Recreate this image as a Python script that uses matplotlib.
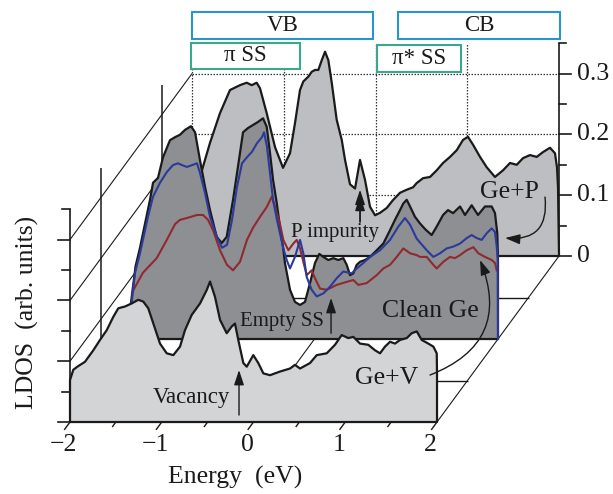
import numpy as np
import matplotlib
matplotlib.use("Agg")
import matplotlib.pyplot as plt
from matplotlib.patches import Polygon

plt.rcParams['font.family'] = ['Liberation Serif', 'DejaVu Serif']

# ---------------- data (energy in eV, LDOS in arb. units) ----------------
# Ge+P (back panel)
back_E = [-2.0, -1.95, -1.913, -1.804, -1.695, -1.586, -1.477, -1.404, -1.349, -1.295,
          -1.259, -1.186, -1.095, -1.008, -0.932, -0.877, -0.823, -0.787, -0.732, -0.695,
          -0.659, -0.623, -0.586, -0.550, -0.514, -0.477, -0.423, -0.368, -0.332, -0.278,
          -0.223, -0.169, -0.114, -0.060, -0.005, 0.049, 0.122, 0.191, 0.267, 0.340,
          0.409, 0.449, 0.518, 0.594, 0.667, 0.736, 0.812, 0.885, 0.954, 1.008,
          1.063, 1.139, 1.212, 1.302, 1.390, 1.466, 1.539, 1.608, 1.684, 1.757,
          1.826, 1.902, 1.956, 1.978, 1.989, 2.0]
back_L = [0.05, 0.09, 0.130, 0.186, 0.235, 0.273, 0.281, 0.285, 0.281, 0.285,
          0.276, 0.235, 0.179, 0.145, 0.169, 0.219, 0.273, 0.287, 0.295, 0.303,
          0.306, 0.306, 0.322, 0.336, 0.322, 0.285, 0.224, 0.191, 0.158, 0.118,
          0.111, 0.158, 0.125, 0.081, 0.067, 0.071, 0.079, 0.092, 0.104, 0.109,
          0.113, 0.120, 0.128, 0.130, 0.141, 0.153, 0.163, 0.174, 0.191, 0.196,
          0.183, 0.163, 0.146, 0.130, 0.141, 0.153, 0.150, 0.161, 0.166, 0.163,
          0.171, 0.178, 0.169, 0.146, 0.113, 0.0]

# Clean Ge (middle panel) total LDOS
mid_E = [-2.0, -1.95, -1.902, -1.847, -1.793, -1.760, -1.706, -1.651, -1.575, -1.520,
         -1.466, -1.411, -1.346, -1.302, -1.248, -1.193, -1.139, -1.066, -1.011, -0.957,
         -0.888, -0.812, -0.779, -0.725, -0.670, -0.616, -0.561, -0.521, -0.485, -0.452,
         -0.412, -0.376, -0.343, -0.322, -0.267, -0.213, -0.158, -0.104, -0.049, 0.005,
         0.052, 0.096, 0.150, 0.205, 0.259, 0.314, 0.351, 0.387, 0.423, 0.460,
         0.496, 0.550, 0.605, 0.678, 0.750, 0.823, 0.877, 0.932, 0.968, 1.005,
         1.041, 1.095, 1.150, 1.210, 1.277, 1.332, 1.401, 1.455, 1.510, 1.586,
         1.640, 1.713, 1.782, 1.858, 1.931, 1.967, 1.992, 2.0]
mid_L = [0.06, 0.12, 0.15, 0.19, 0.229, 0.257, 0.265, 0.299, 0.327, 0.332,
         0.336, 0.344, 0.350, 0.340, 0.294, 0.250, 0.212, 0.168, 0.158, 0.168,
         0.229, 0.306, 0.340, 0.347, 0.352, 0.357, 0.363, 0.349, 0.306, 0.262,
         0.224, 0.184, 0.151, 0.125, 0.081, 0.061, 0.056, 0.061, 0.092, 0.125,
         0.140, 0.135, 0.130, 0.133, 0.130, 0.133, 0.122, 0.105, 0.108, 0.122,
         0.127, 0.130, 0.135, 0.146, 0.157, 0.179, 0.196, 0.212, 0.223, 0.229,
         0.218, 0.201, 0.190, 0.180, 0.171, 0.185, 0.204, 0.212, 0.207, 0.218,
         0.204, 0.220, 0.204, 0.218, 0.218, 0.207, 0.174, 0.13]

# Clean Ge, blue component
blue_E = [-2.0, -1.992, -1.956, -1.902, -1.815, -1.760, -1.684, -1.608, -1.542, -1.488,
          -1.444, -1.390, -1.335, -1.281, -1.248, -1.193, -1.139, -1.063, -1.008, -0.953,
          -0.899, -0.845, -0.790, -0.736, -0.681, -0.627, -0.572, -0.550, -0.518, -0.485,
          -0.452, -0.409, -0.343, -0.303, -0.267, -0.213, -0.158, -0.122, -0.085, -0.031,
          0.024, 0.096, 0.169, 0.242, 0.314, 0.405, 0.460, 0.532, 0.605, 0.714,
          0.823, 0.914, 0.986, 1.041, 1.114, 1.223, 1.295, 1.368, 1.441, 1.513,
          1.586, 1.659, 1.713, 1.768, 1.822, 1.877, 1.931, 1.967, 1.986, 1.997, 2.0]
blue_L = [0.0, 0.061, 0.109, 0.141, 0.201, 0.234, 0.257, 0.275, 0.286, 0.289,
          0.286, 0.283, 0.286, 0.289, 0.273, 0.240, 0.201, 0.168, 0.150, 0.155,
          0.196, 0.250, 0.289, 0.299, 0.308, 0.322, 0.332, 0.340, 0.316, 0.273,
          0.229, 0.196, 0.151, 0.130, 0.116, 0.135, 0.163, 0.141, 0.102, 0.081,
          0.070, 0.075, 0.086, 0.100, 0.111, 0.108, 0.116, 0.125, 0.135, 0.146,
          0.163, 0.185, 0.199, 0.188, 0.165, 0.146, 0.135, 0.141, 0.149, 0.152,
          0.157, 0.166, 0.171, 0.166, 0.163, 0.174, 0.182, 0.176, 0.152, 0.13, 0.0]

# Clean Ge, red component
red_E = [-1.99, -1.87, -1.72, -1.61, -1.52, -1.466, -1.39, -1.28, -1.215, -1.16,
         -1.106, -1.03, -0.954, -0.888, -0.812, -0.736, -0.67, -0.594, -0.521, -0.466,
         -0.43, -0.376, -0.34, -0.285, -0.231, -0.194, -0.158, -0.122, -0.085, -0.031,
         0.005, 0.060, 0.133, 0.242, 0.351, 0.423, 0.478, 0.569, 0.678, 0.750,
         0.823, 0.896, 0.968, 1.041, 1.114, 1.150, 1.223, 1.295, 1.332, 1.404,
         1.477, 1.531, 1.586, 1.659, 1.731, 1.786, 1.858, 1.931, 1.967, 1.986]
red_L = [0.076, 0.109, 0.133, 0.163, 0.189, 0.196, 0.199, 0.204, 0.204, 0.196,
         0.179, 0.146, 0.122, 0.113, 0.127, 0.163, 0.183, 0.201, 0.217, 0.234,
         0.217, 0.189, 0.163, 0.146, 0.157, 0.163, 0.149, 0.127, 0.105, 0.113,
         0.100, 0.083, 0.081, 0.089, 0.094, 0.097, 0.089, 0.092, 0.105, 0.116,
         0.122, 0.135, 0.149, 0.141, 0.138, 0.135, 0.135, 0.122, 0.116, 0.127,
         0.135, 0.133, 0.138, 0.146, 0.151, 0.141, 0.135, 0.130, 0.125, 0.113]

# Ge+V (front panel)
front_E = [-2.0, -1.964, -1.910, -1.837, -1.746, -1.673, -1.600, -1.528, -1.474, -1.401,
           -1.328, -1.256, -1.201, -1.147, -1.092, -1.019, -0.946, -0.874, -0.801, -0.747,
           -0.674, -0.583, -0.510, -0.474, -0.420, -0.365, -0.292, -0.238, -0.202, -0.166,
           -0.111, -0.074, -0.002, 0.052, 0.107, 0.180, 0.289, 0.398, 0.452, 0.507,
           0.616, 0.689, 0.798, 0.888, 0.961, 1.033, 1.088, 1.161, 1.251, 1.324,
           1.379, 1.433, 1.488, 1.542, 1.597, 1.670, 1.724, 1.779, 1.833, 1.905,
           1.960, 1.997, 2.0]
front_L = [0.069, 0.086, 0.092, 0.099, 0.118, 0.135, 0.151, 0.173, 0.187, 0.190,
           0.195, 0.201, 0.198, 0.187, 0.162, 0.129, 0.113, 0.110, 0.124, 0.151,
           0.176, 0.195, 0.217, 0.231, 0.206, 0.168, 0.146, 0.157, 0.162, 0.135,
           0.097, 0.091, 0.110, 0.097, 0.080, 0.077, 0.083, 0.088, 0.094, 0.088,
           0.097, 0.110, 0.113, 0.127, 0.143, 0.138, 0.140, 0.129, 0.127, 0.118,
           0.113, 0.124, 0.132, 0.129, 0.135, 0.138, 0.146, 0.149, 0.135, 0.129,
           0.124, 0.113, 0.080]

x_ticks = [-2, -1, 0, 1, 2]
x_tick_labels = ['\u22122', '\u22121', '0', '1', '2']
y_ticks = [0.0, 0.1, 0.2, 0.3]
y_tick_labels = ['0', '0.1', '0.2', '0.3']

# ---------------- geometry ----------------
LMAX = 0.35
DE, DL = 0.3324, 0.06826       # shift per depth unit (pseudo-3D)
D_FRONT, D_MID, D_BACK = 0, 2, 4


def P(E, L, d):
    E = np.asarray(E, float)
    L = np.asarray(L, float)
    return E + d * DE, L + d * DL


fig = plt.figure(figsize=(6.13, 4.94), dpi=100)
ax = fig.add_axes([0, 0, 1, 1])
ax.set_xlim(-2.763, 3.918)
ax.set_ylim(-0.1184, 0.6941)
ax.axis('off')

K = '#1a1a1a'
GRID = dict(color='#333333', lw=0.9, ls=(0, (1.2, 1.2)), zorder=1)
THIN = dict(color=K, lw=0.8, zorder=1)


def seg(E0, L0, d0, E1, L1, d1, **kw):
    x0, y0 = P(E0, L0, d0)
    x1, y1 = P(E1, L1, d1)
    ax.plot([x0, x1], [y0, y1], solid_capstyle='butt', **kw)


# back wall grid
for L in y_ticks[1:]:
    seg(-2, L, D_BACK, 2, L, D_BACK, **GRID)
for E in x_ticks[:-1]:
    seg(E, 0, D_BACK, E, LMAX, D_BACK, **GRID)

# left wall
for L in y_ticks[1:]:
    seg(-2, L, D_FRONT, -2, L, D_BACK, **THIN)
seg(-2, 0, 3, -2, LMAX, 3, color=K, lw=1.1, zorder=1)


def panel(E, L, d, face, z):
    E = np.asarray(E, float)
    L = np.asarray(L, float)
    xs = np.concatenate([[E[0]], E, [E[-1]]])
    ys = np.concatenate([[0.0], L, [0.0]])
    x, y = P(xs, ys, d)
    poly = Polygon(np.column_stack([x, y]), closed=True, facecolor=face,
                   edgecolor=K, lw=1.6, joinstyle='round', zorder=z)
    ax.add_patch(poly)


# back panel Ge+P
panel(back_E, back_L, D_BACK, '#BDBEC1', 2)
# right axis (on back panel)
seg(2, 0, D_BACK, 2, LMAX, D_BACK, color=K, lw=1.2, zorder=2.3)
for i, L in enumerate(np.arange(0, LMAX + 0.001, 0.05)):
    ln = 0.131 if i % 2 == 0 else 0.076
    x0, y0 = P(2, L, D_BACK)
    ax.plot([x0, x0 + ln], [y0, y0], color=K, lw=1.2, zorder=2.3)
for L, lab in zip(y_ticks, y_tick_labels):
    x0, y0 = P(2.196, L, D_BACK)
    ax.text(x0, y0, lab, ha='left', va='center', fontsize=18.5, color=K)

# floor lines behind the middle panel
seg(-2, 0, 3, 2, 0, 3, color=K, lw=1.0, zorder=2.5)
for E in x_ticks:
    seg(E, 0, D_FRONT, E, 0, D_BACK, color=K, lw=0.8, zorder=2.5)

# middle panel Clean Ge
panel(mid_E, mid_L, D_MID, '#8E8F93', 3)
ax.plot(*P(red_E, red_L, D_MID), color='#8E2A30', lw=1.5,
        solid_joinstyle='round', zorder=3.2)
ax.plot(*P(blue_E, blue_L, D_MID), color='#2B3A9A', lw=1.5,
        solid_joinstyle='round', zorder=3.3)

# floor/wall lines in front of the middle panel
seg(-2, 0, 1, 2, 0, 1, color=K, lw=1.0, zorder=3.5)
seg(-2, 0, 1, -2, LMAX, 1, color=K, lw=1.1, zorder=3.5)

# front panel Ge+V
panel(front_E, front_L, D_FRONT, '#D3D4D6', 4)
seg(-2, 0, D_FRONT, -2, LMAX, D_FRONT, color=K, lw=1.2, zorder=4.2)
for i, L in enumerate(np.arange(0, LMAX + 0.001, 0.05)):
    ln = 0.131 if i % 2 == 0 else 0.085
    x0, y0 = P(-2, L, D_FRONT)
    ax.plot([x0 - ln, x0], [y0, y0], color=K, lw=1.2, zorder=4.2)
for i, E in enumerate(np.arange(-2, 2.001, 0.5)):
    t = 0.19 if i % 2 == 0 else 0.12
    seg(E, 0, D_FRONT, E, 0, -t, color=K, lw=1.0, zorder=4.2)
for E, lab in zip(x_ticks, x_tick_labels):
    x0, y0 = P(E - 0.07, -0.038, D_FRONT)
    ax.text(x0, y0, lab, ha='center', va='center', fontsize=18.5, color=K)

# axis titles
x0, y0 = P(-0.202, -0.092, 0)
ax.text(x0, y0, 'Energy  (eV)', ha='center', va='center', fontsize=18.5, color=K)
x0, y0 = P(-2.469, 0.181, 0)
ax.text(x0, y0, 'LDOS  (arb. units)', ha='center', va='center', rotation=90,
        fontsize=18.5, color=K)

# labels
labels = [('Ge+V', 1.452, 0.0724, 18.5), ('Ge+P', 2.785, 0.378, 18.5),
          ('Clean Ge', 1.924, 0.1826, 18.5), ('Empty SS', 0.311, 0.1645, 15),
          ('P impurity', 0.888, 0.3125, 15), ('Vacancy', -0.681, 0.0411, 16.5)]
for s, E, L, fs in labels:
    x0, y0 = P(E, L, 0)
    ax.text(x0, y0, s, ha='center', va='center', fontsize=fs, color=K, zorder=6)

# arrows
def arrow(E0, L0, E1, L1, rad=0.0):
    ax.annotate('', xy=P(E1, L1, 0), xytext=P(E0, L0, 0),
                arrowprops=dict(arrowstyle='-|>,head_length=0.9,head_width=0.3',
                                color=K, lw=1.0, shrinkA=0, shrinkB=0,
                                connectionstyle='arc3,rad=%g' % rad),
                zorder=6)

arrow(-0.158, 0.0115, -0.158, 0.0855)
arrow(0.845, 0.146, 0.845, 0.204)
arrow(1.161, 0.329, 1.161, 0.382)
arrow(1.161, 0.329, 1.161, 0.372)
arrow(3.177, 0.370, 2.741, 0.3026, rad=-0.6)
arrow(1.924, 0.0773, 2.469, 0.2664, rad=0.5)

# band boxes on top (back-panel energy coordinates)
boxes = [('VB', -2.0, -0.03, 0.357, 0.401, '#2A96C8'),
         ('CB', 0.245, 2.011, 0.357, 0.401, '#2A96C8'),
         ('\u03c0 SS', -2.01, -0.823, 0.308, 0.350, '#3AA88A'),
         ('\u03c0* SS', 0.016, 0.932, 0.303, 0.347, '#3AA88A')]
for s, E0, E1, L0, L1, c in boxes:
    xa, ya = P(E0, L0, D_BACK)
    xb, yb = P(E1, L1, D_BACK)
    ax.add_patch(Polygon([[xa, ya], [xb, ya], [xb, yb], [xa, yb]], closed=True,
                         facecolor='white', edgecolor=c, lw=1.5, zorder=7))
    ax.text((xa + xb) / 2, (ya + yb) / 2, s, ha='center', va='center',
            fontsize=16.5, color=K, zorder=8)

fig.savefig('out.png', dpi=100)
